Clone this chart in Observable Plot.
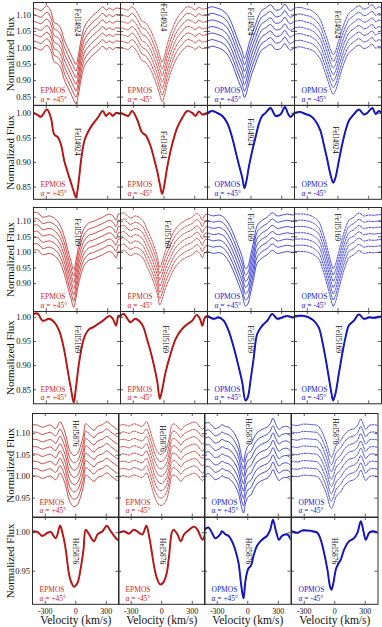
<!DOCTYPE html>
<html><head><meta charset="utf-8">
<script src="https://cdn.jsdelivr.net/npm/d3@7"></script>
<script src="https://cdn.jsdelivr.net/npm/@observablehq/plot@0.6"></script>
<style>
body{margin:0;background:#fff;}
#chart{position:relative;width:382px;height:627px;overflow:hidden;background:#fff;}
</style></head><body><div id="chart"></div><script>
// ---------- labels & ticks ----------
const lineNames = ["FeII4924", "FeII5169", "HeI5876"];
const modes = ["EPMOS", "EPMOS", "OPMOS", "OPMOS"];
const angles = ["α = +45°", "α = -45°", "α = +45°", "α = -45°"];
const xTickValues = [-300, 0, 300];
const velDomain = [-425, 425];
const yTicksA = [0.85, 0.90, 0.95, 1.00, 1.05, 1.10];
const yTicksB = [0.85, 0.90, 0.95, 1.00];
const yTicksC = [0.90, 0.95, 1.00, 1.05, 1.10];
const yTicksD = [0.85, 0.90, 0.95, 1.00];
const yTicksE = [0.95, 1.00, 1.05, 1.10];
const yTicksF = [0.95, 1.00];
const offsetsFe = [0, 0.02, 0.04, 0.06, 0.08, 0.10, 0.12];
const offsetsHe = [0, 0.017, 0.034, 0.051, 0.068, 0.085, 0.102, 0.119];

// ---------- FeII 4924 profiles ----------
const fe4924_epP_v = [-425,-385,-353,-294,-255,-222,-189,-157,-124,-91,-59,-33,-10,13,39,72,105,154,203,252,284,317,350,382,425];
const fe4924_epP_f = [1.001,0.997,0.993,1.008,0.991,0.957,0.952,0.937,0.903,0.880,0.859,0.842,0.829,0.856,0.903,0.944,0.961,0.978,0.991,1.005,0.995,1.001,0.995,1.001,0.999];
const fe4924_epM_v = [-425,-377,-348,-312,-263,-214,-181,-132,-100,-67,-41,-18,5,31,80,129,179,227,276,309,341,374,425];
const fe4924_epM_f = [1.001,0.997,0.995,1.005,0.988,0.961,0.956,0.934,0.910,0.883,0.856,0.836,0.856,0.890,0.937,0.971,0.991,1.005,1.001,0.995,1.004,0.998,1.001];
const fe4924_opP_v = [-425,-380,-331,-282,-233,-184,-152,-120,-86,-64,-44,-22,12,44,76,110,142,191,240,289,331,365,387,425];
const fe4924_opP_f = [1.001,1.005,1.001,0.995,0.981,0.951,0.924,0.897,0.870,0.848,0.863,0.890,0.924,0.951,0.978,0.995,1.001,1.011,0.995,0.998,1.013,0.998,0.993,1.001];
const fe4924_opM_v = [-425,-368,-319,-270,-221,-172,-139,-106,-74,-47,-25,8,41,74,106,155,204,253,286,335,368,400,425];
const fe4924_opM_f = [1.001,1.003,0.999,0.995,0.985,0.965,0.937,0.907,0.876,0.859,0.869,0.903,0.937,0.965,0.985,0.998,1.008,0.998,1.001,1.011,0.999,1.005,1.001];

// ---------- FeII 5169 profiles ----------
const fe5169_epP_v = [-425,-385,-336,-271,-222,-173,-124,-91,-59,-32,-10,23,72,121,154,203,252,317,350,382,405,425];
const fe5169_epP_f = [1.007,1.008,0.993,0.997,0.990,0.972,0.931,0.890,0.852,0.824,0.855,0.910,0.959,0.976,0.979,0.986,0.993,1.003,0.997,0.983,1.003,1.003];
const fe5169_epM_v = [-425,-394,-328,-279,-214,-165,-116,-67,-41,-18,15,64,113,162,211,276,318,351,374,400,425];
const fe5169_epM_f = [1.003,1.007,0.990,0.997,0.985,0.954,0.917,0.869,0.832,0.850,0.886,0.924,0.955,0.972,0.983,0.993,1.005,0.997,0.983,1.000,1.003];
const fe5169_opP_v = [-425,-365,-316,-267,-218,-169,-120,-86,-54,-31,-5,27,61,110,159,208,257,306,355,404,425];
const fe5169_opP_f = [1.003,0.997,1.000,0.993,0.972,0.938,0.897,0.866,0.828,0.835,0.869,0.917,0.966,0.983,0.993,1.007,0.997,1.000,1.003,1.000,1.001];
const fe5169_opM_v = [-425,-400,-335,-286,-237,-188,-155,-123,-90,-57,-47,-25,8,41,74,106,155,204,253,302,351,400,425];
const fe5169_opM_f = [1.003,1.003,1.003,1.000,0.993,0.979,0.952,0.917,0.876,0.835,0.828,0.842,0.883,0.924,0.959,0.983,0.993,1.006,0.997,1.000,0.999,1.001,1.001];

// ---------- HeI 5876 profiles ----------
const he5876_epP_v = [-425,-377,-328,-278,-246,-197,-154,-131,-98,-82,-66,-42,-17,17,49,76,98,131,180,214,263,305,344,377,410,425];
const he5876_epP_f = [1.002,1.001,0.996,1.000,1.001,0.993,1.009,1.000,0.978,0.961,0.946,0.935,0.930,0.935,0.954,0.978,1.004,0.998,0.989,0.998,1.002,1.009,1.002,0.996,0.991,0.993];
const he5876_epM_v = [-425,-371,-322,-273,-223,-190,-151,-125,-92,-69,-42,-17,13,46,72,98,115,154,187,220,269,318,351,400,425];
const he5876_epM_f = [1.000,1.002,0.999,1.004,1.000,0.998,1.009,0.996,0.970,0.952,0.939,0.933,0.935,0.946,0.970,1.000,1.004,0.998,0.989,0.998,1.004,1.008,1.004,0.991,0.998];
const he5876_opP_v = [-425,-386,-352,-320,-271,-254,-221,-189,-155,-123,-91,-67,-51,-41,-25,-8,8,31,57,91,140,189,221,248,274,307,337,386,425];
const he5876_opP_f = [1.004,1.007,1.000,0.993,0.998,1.002,0.998,0.996,0.989,0.978,0.961,0.935,0.920,0.915,0.935,0.948,0.954,0.957,0.970,0.983,0.991,0.996,1.004,1.017,1.004,0.991,0.996,0.998,0.991];
const he5876_opM_v = [-425,-367,-318,-269,-219,-170,-138,-105,-72,-46,-32,-13,10,32,59,92,141,190,223,256,282,305,338,371,425];
const he5876_opM_f = [1.002,1.000,1.003,1.003,1.002,1.000,0.991,0.974,0.952,0.930,0.926,0.935,0.952,0.959,0.965,0.978,0.989,0.993,1.000,1.015,1.002,0.991,1.000,1.002,1.000];

// ---------- layout ----------
const colours = {EPMOS: {thin: "#c42a2a", thick: "#b40f0f", text: "#cc1f1f"},
                 OPMOS: {thin: "#2a2ad0", thick: "#0d0db8", text: "#2020cc"}};
const groups = [
  {line: lineNames[0], lefts: [33, 120, 207, 294], width: 87, offsets: offsetsFe,
   profiles: [[fe4924_epP_v, fe4924_epP_f], [fe4924_epM_v, fe4924_epM_f], [fe4924_opP_v, fe4924_opP_f], [fe4924_opM_v, fe4924_opM_f]],
   rows: [
     {top: 1.7, height: 102.8, yDomain: [0.825, 1.138], yTicks: yTicksA, stacked: true,
      textV: [5, -5, -5, -5], textF: [1.119, 1.134, 1.122, 1.113]},
     {top: 104.5, height: 93.8, yDomain: [0.825, 1.016], yTicks: yTicksB, stacked: false,
      textV: [5, -5, -5, -25], textF: [0.970, 0.964, 0.990, 0.974]}]},
  {line: lineNames[1], lefts: [33, 120, 207, 294], width: 87, offsets: offsetsFe,
   profiles: [[fe5169_epP_v, fe5169_epP_f], [fe5169_epM_v, fe5169_epM_f], [fe5169_opP_v, fe5169_opP_f], [fe5169_opM_v, fe5169_opM_f]],
   rows: [
     {top: 207, height: 104, yDomain: [0.811, 1.144], yTicks: yTicksC, stacked: true,
      textV: [5, 34, -5, -8], textF: [1.109, 1.102, 1.125, 1.125]},
     {top: 311, height: 92.3, yDomain: [0.821, 1.012], yTicks: yTicksD, stacked: false,
      textV: [5, 15, -5, 8], textF: [0.983, 0.983, 0.983, 0.983]}]},
  {line: lineNames[2], lefts: [32, 118, 204, 291], width: 86.5, offsets: offsetsHe,
   profiles: [[he5876_epP_v, he5876_epP_f], [he5876_epM_v, he5876_epM_f], [he5876_opP_v, he5876_opP_f], [he5876_opM_v, he5876_opM_f]],
   rows: [
     {top: 413, height: 103.5, yDomain: [0.906, 1.147], yTicks: yTicksE, stacked: true,
      textV: [0, 7, 8, 10], textF: [1.131, 1.119, 1.136, 1.136]},
     {top: 516.5, height: 86.8, yDomain: [0.907, 1.0198], yTicks: yTicksF, stacked: false, xLabels: true,
      textV: [0, 7, 8, 0], textF: [0.993, 0.993, 0.993, 0.993]}]}
];

const chart = document.getElementById("chart");
const serif = "Liberation Serif";

for (const g of groups) {
  for (const row of g.rows) {
    for (let c = 0; c < 4; c++) {
      const w = g.width, h = row.height;
      const mL = c === 0 ? g.lefts[0] : 0;
      const mB = row.xLabels ? 23 : 0;
      const mode = modes[c];
      const col = colours[mode];
      const dashed = c % 2 === 1;
      const [vel, flux] = g.profiles[c];
      const offs = row.stacked ? g.offsets : [0];
      const data = [];
      offs.forEach((o, k) => vel.forEach((v, i) => data.push({v, f: flux[i] + o, k})));
      const marks = [];
      if (row.stacked) {
        marks.push(Plot.line(data, {x: "v", y: "f", z: "k", stroke: col.thin, strokeWidth: 0.85,
          strokeDasharray: dashed ? "2,1.2" : null, curve: "catmull-rom", clip: true}));
      } else {
        marks.push(Plot.line(data, {x: "v", y: "f", stroke: col.thick, strokeWidth: 1.9, curve: "catmull-rom", clip: true}));
        marks.push(Plot.line(data, {x: "v", y: "f", stroke: col.thin, strokeWidth: 0.7, strokeDasharray: "1.5,1.5",
          dy: 0.9, curve: "catmull-rom", clip: true}));
      }
      marks.push(Plot.frame({stroke: "#2a2a2a", strokeWidth: 1}));
      // inward ticks on all four sides
      marks.push(Plot.tickY(row.yTicks, {y: d => d, insetRight: w - 3, stroke: "#333", strokeWidth: 0.8}));
      marks.push(Plot.tickY(row.yTicks, {y: d => d, insetLeft: w - 3, stroke: "#333", strokeWidth: 0.8}));
      marks.push(Plot.tickX(xTickValues, {x: d => d, insetTop: h - 3, stroke: "#333", strokeWidth: 0.8}));
      marks.push(Plot.tickX(xTickValues, {x: d => d, insetBottom: h - 3, stroke: "#333", strokeWidth: 0.8}));
      // line identification, rotated
      marks.push(Plot.text([g.line], {x: () => row.textV[c], y: () => row.textF[c], rotate: 90,
        textAnchor: "start", lineAnchor: "middle", fontSize: 7.5, fontFamily: serif, fill: "#111"}));
      // mode / angle label
      marks.push(Plot.text([mode], {frameAnchor: "bottom-left", dx: 7, dy: -14.5, textAnchor: "start",
        lineAnchor: "middle", fontSize: 7.5, fontFamily: serif, fill: col.text}));
      marks.push(Plot.text([angles[c]], {frameAnchor: "bottom-left", dx: 7, dy: -6, textAnchor: "start",
        lineAnchor: "middle", fontSize: 7.5, fontFamily: serif, fill: col.text}));
      if (c === 0) {
        marks.push(Plot.text(row.yTicks, {y: d => d, frameAnchor: "left", dx: -2.5, textAnchor: "end",
          lineAnchor: "middle", text: d => d3.format(".2f")(d), fontSize: 8.5, fontFamily: serif, fill: "#111"}));
        marks.push(Plot.text(["Normalized Flux"], {frameAnchor: "left", dx: -(g.lefts[0] - 9.5), rotate: -90,
          textAnchor: "middle", lineAnchor: "middle", fontSize: 11, fontFamily: serif, fill: "#111"}));
      }
      if (row.xLabels) {
        marks.push(Plot.text(xTickValues, {x: d => d, frameAnchor: "bottom", dy: 7, text: d => String(d),
          textAnchor: "middle", lineAnchor: "middle", fontSize: 8, fontFamily: serif, fill: "#111"}));
        marks.push(Plot.text(["Velocity (km/s)"], {frameAnchor: "bottom", dy: 16.5, textAnchor: "middle",
          lineAnchor: "middle", fontSize: 11.5, fontFamily: serif, fill: "#111"}));
      }
      const svg = Plot.plot({
        width: w + mL, height: h + mB,
        marginTop: 0, marginRight: 0, marginBottom: mB, marginLeft: mL,
        x: {domain: velDomain, axis: null},
        y: {domain: row.yDomain, axis: null},
        style: {position: "absolute", left: (g.lefts[c] - mL) + "px", top: row.top + "px", overflow: "visible",
                background: "transparent", fontFamily: serif, maxWidth: "none"},
        marks
      });
      chart.appendChild(svg);
    }
  }
}
</script></body></html>
